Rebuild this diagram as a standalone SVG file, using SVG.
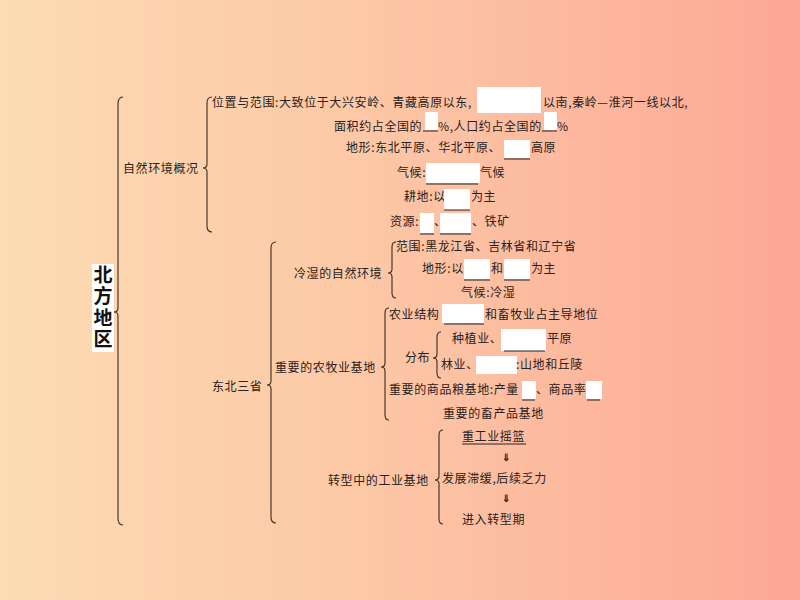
<svg xmlns="http://www.w3.org/2000/svg" width="800" height="600" viewBox="0 0 800 600">
<defs>
<linearGradient id="bg" x1="0" y1="0" x2="1" y2="0">
<stop offset="0" stop-color="#fcdcb4"/>
<stop offset="0.45" stop-color="#fcc8a6"/>
<stop offset="1" stop-color="#fca896"/>
</linearGradient>
</defs>
<style>
text{font-family:"Noto Sans CJK SC","Noto Sans",sans-serif;font-size:12px;fill:#2a2220;letter-spacing:0.6px}
.br{fill:none;stroke:#3a2a22;stroke-width:1.1}
.bx{fill:#ffffff}
.ul{stroke:#2a2220;stroke-width:1}
.title{font-size:19px;font-weight:bold;fill:#111;writing-mode:vertical-rl;letter-spacing:2.5px}
.arr{font-size:10px;font-weight:bold}
</style>
<rect width="800" height="600" fill="url(#bg)"/>

<g id="connectors">
<path class="br" d="M123,97 Q118,97 118,104 L118,308 Q118,312 114,312 Q118,312 118,316 L118,518 Q118,525 123,525"/>
<path class="br" d="M212,97 Q207,97 207,103 L207,164 Q207,168 203,168 Q207,168 207,172 L207,226 Q207,232 212,232"/>
<path class="br" d="M276,242 Q271,242 271,248 L271,381 Q271,385 267,385 Q271,385 271,389 L271,517 Q271,523 276,523"/>
<path class="br" d="M396,242 Q392,242 392,247 L392,269 Q392,273 388,273 Q392,273 392,277 L392,293 Q392,298 396,298"/>
<path class="br" d="M389,308 Q385,308 385,313 L385,363 Q385,367 381,367 Q385,367 385,371 L385,415 Q385,420 389,420"/>
<path class="br" d="M441,332 Q437,332 437,337 L437,354 Q437,358 433,358 Q437,358 437,362 L437,373 Q437,378 441,378"/>
<path class="br" d="M443,430 Q439,430 439,435 L439,476 Q439,480 435,480 Q439,480 439,484 L439,519 Q439,524 443,524"/>
</g>

<g id="root">
<rect x="92" y="264" width="22" height="88" fill="#ffffff"/>
<text class="title" x="103" y="265">北方地区</text>
</g>

<g id="nature">
<text x="123" y="173">自然环境概况</text>
</g>

<g id="location">
<text x="212" y="107">位置与范围:大致位于大兴安岭、青藏高原以东,</text>
<rect class="bx" x="477" y="87" width="64" height="26"/>
<text x="543" y="107">以南,秦岭—淮河一线以北,</text>
<text x="334" y="131">面积约占全国的</text>
<rect class="bx" x="425" y="112" width="13" height="18"/>
<line class="ul" x1="423" y1="131" x2="438" y2="131"/>
<text x="438" y="131">%,人口约占全国的</text>
<rect class="bx" x="544" y="112" width="13" height="18"/>
<line class="ul" x1="542" y1="131" x2="557" y2="131"/>
<text x="557" y="131">%</text>
</g>

<g id="terrain">
<text x="346" y="152">地形:东北平原、华北平原、</text>
<rect class="bx" x="504" y="140" width="26" height="18"/>
<line class="ul" x1="504" y1="159" x2="530" y2="159"/>
<text x="531" y="152">高原</text>
</g>

<g id="climate">
<text x="397" y="177">气候:</text>
<rect class="bx" x="426" y="163" width="54" height="20"/>
<line class="ul" x1="426" y1="184" x2="478" y2="184"/>
<text x="480" y="177">气候</text>
</g>

<g id="farmland">
<text x="404" y="201">耕地:以</text>
<rect class="bx" x="444" y="189" width="26" height="21"/>
<line class="ul" x1="444" y1="210" x2="470" y2="210"/>
<text x="471" y="201">为主</text>
</g>

<g id="resources">
<text x="390" y="226">资源:</text>
<rect class="bx" x="420" y="213" width="14" height="20"/>
<line class="ul" x1="420" y1="234" x2="434" y2="234"/>
<text x="434" y="226">、</text>
<rect class="bx" x="440" y="213" width="31" height="20"/>
<line class="ul" x1="440" y1="234" x2="471" y2="234"/>
<text x="472" y="226">、铁矿</text>
</g>

<g id="northeast">
<text x="212" y="391">东北三省</text>
</g>

<g id="cold-env">
<text x="294" y="278">冷湿的自然环境</text>
<text x="396" y="251">范围:黑龙江省、吉林省和辽宁省</text>
<text x="422" y="273">地形:以</text>
<rect class="bx" x="464" y="259" width="26" height="20"/>
<line class="ul" x1="464" y1="280" x2="490" y2="280"/>
<text x="491" y="273">和</text>
<rect class="bx" x="504" y="259" width="26" height="20"/>
<line class="ul" x1="504" y1="280" x2="530" y2="280"/>
<text x="531" y="273">为主</text>
<text x="461" y="297">气候:冷湿</text>
</g>

<g id="agri">
<text x="275" y="372">重要的农牧业基地</text>
<text x="389" y="319">农业结构</text>
<rect class="bx" x="442" y="304" width="42" height="19"/>
<line class="ul" x1="444" y1="324" x2="484" y2="324"/>
<text x="485" y="319">和畜牧业占主导地位</text>
<text x="405" y="362">分布</text>
<text x="452" y="343">种植业、</text>
<rect class="bx" x="501" y="329" width="45" height="22"/>
<line class="ul" x1="504" y1="351" x2="545" y2="351"/>
<text x="547" y="343">平原</text>
<text x="441" y="369">林业、</text>
<rect class="bx" x="476" y="356" width="41" height="18"/>
<text x="516" y="369">:山地和丘陵</text>
<text x="389" y="394">重要的商品粮基地:产量</text>
<rect class="bx" x="522" y="381" width="14" height="18"/>
<line class="ul" x1="522" y1="400" x2="535" y2="400"/>
<text x="536" y="394">、商品率</text>
<rect class="bx" x="586" y="381" width="16" height="18"/>
<line class="ul" x1="587" y1="400" x2="600" y2="400"/>
<text x="443" y="418">重要的畜产品基地</text>
</g>

<g id="industry">
<text x="328" y="485">转型中的工业基地</text>
<text x="462" y="441">重工业摇篮</text>
<line class="ul" x1="462" y1="444" x2="526" y2="444"/>
<text class="arr" x="502" y="461">⇓</text>
<text x="442" y="483">发展滞缓,后续乏力</text>
<text class="arr" x="502" y="502">⇓</text>
<text x="462" y="524">进入转型期</text>
</g>
</svg>
